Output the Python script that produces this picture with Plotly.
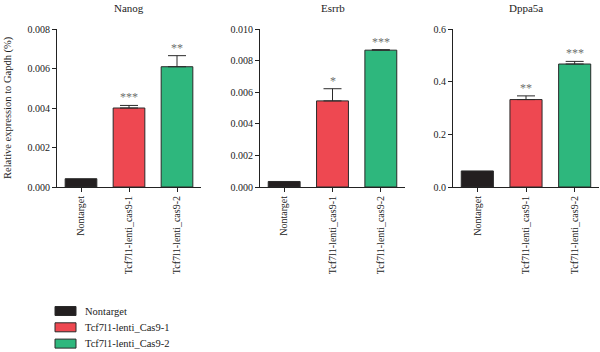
import plotly.graph_objects as go

groups = ["Nontarget", "Tcf7l1-lenti_cas9-1", "Tcf7l1-lenti_cas9-2"]
legend_names = ["Nontarget", "Tcf7l1-lenti_Cas9-1", "Tcf7l1-lenti_Cas9-2"]
genes = ["Nanog", "Esrrb", "Dppa5a"]

nanog = [0.00042, 0.00400, 0.00609]
nanog_err = [0.0, 0.00013, 0.00056]
esrrb = [0.00035, 0.00545, 0.00866]
esrrb_err = [0.0, 0.00077, 0.00003]
dppa5a = [0.061, 0.332, 0.467]
dppa5a_err = [0.0, 0.014, 0.010]
stars = [["", "***", "**"], ["", "*", "***"], ["", "**", "***"]]

y_ranges = [[0, 0.008], [0, 0.010], [0, 0.6]]
y_ticks = [[0, 0.002, 0.004, 0.006, 0.008],
           [0, 0.002, 0.004, 0.006, 0.008, 0.010],
           [0, 0.2, 0.4, 0.6]]
y_fmt = [".3f", ".3f", ".1f"]

colors = ["#231f20", "#ee4851", "#2eb77d"]
FONT = "Liberation Serif"

values = [nanog, esrrb, dppa5a]
errors = [nanog_err, esrrb_err, dppa5a_err]

x_domains = [[57/600, 201/600], [260/600, 405/600], [453/600, 599/600]]
y_domain = [1 - 187/352, 1 - 29/352]

fig = go.Figure()
annotations = []
shapes = []
for p in range(3):
    xa = "x" if p == 0 else f"x{p+1}"
    ya = "y" if p == 0 else f"y{p+1}"
    for i in range(3):
        fig.add_trace(go.Bar(
            x=[groups[i]], y=[values[p][i]],
            name=legend_names[i], showlegend=False,
            marker=dict(color=colors[i], line=dict(color="#2a2a2a", width=1)),
            error_y=dict(type="data", array=[errors[p][i]], symmetric=False,
                         arrayminus=[0], visible=errors[p][i] > 0,
                         color="#2a2a2a", thickness=1, width=9),
            xaxis=xa, yaxis=ya, width=0.66,
        ))
        if stars[p][i]:
            annotations.append(dict(
                x=groups[i], y=values[p][i] + errors[p][i], xref=xa, yref=ya,
                text=stars[p][i], showarrow=False, yanchor="bottom", yshift=-1,
                font=dict(family=FONT, size=12, color="#6e6e6e")))
    annotations.append(dict(
        x=(x_domains[p][0] + x_domains[p][1]) / 2, y=1 - 8/352, xref="paper", yref="paper",
        text=genes[p], showarrow=False, xanchor="center", yanchor="middle",
        font=dict(family=FONT, size=11, color="#222")))

annotations.append(dict(
    x=8/600, y=(y_domain[0] + y_domain[1]) / 2, xref="paper", yref="paper",
    text="Relative expression to Gapdh (%)", textangle=-90, showarrow=False,
    xanchor="center", yanchor="middle",
    font=dict(family=FONT, size=10.5, color="#222")))

# legend drawn as boxes + labels
for i, name in enumerate(legend_names):
    yc = 311 + i * 16.3
    shapes.append(dict(type="rect", xref="paper", yref="paper",
                       x0=55/600, x1=76/600, y0=1 - (yc - 4.5)/352, y1=1 - (yc + 4.5)/352,
                       fillcolor=colors[i], line=dict(color="#2a2a2a", width=1)))
    annotations.append(dict(x=83/600, y=1 - yc/352, xref="paper", yref="paper",
                            text=name, showarrow=False, xanchor="left", yanchor="middle",
                            font=dict(family=FONT, size=10.5, color="#222")))

layout = dict(
    width=600, height=352,
    margin=dict(l=0, r=0, t=0, b=0, autoexpand=False),
    paper_bgcolor="white", plot_bgcolor="white",
    showlegend=False,
    font=dict(family=FONT, size=10, color="#222"),
    annotations=annotations,
    shapes=shapes,
)
for p in range(3):
    xk = "xaxis" if p == 0 else f"xaxis{p+1}"
    yk = "yaxis" if p == 0 else f"yaxis{p+1}"
    layout[xk] = dict(domain=x_domains[p], anchor="y" if p == 0 else f"y{p+1}",
                      showline=True, linecolor="#222", linewidth=1,
                      ticks="outside", ticklen=4, tickcolor="#222",
                      tickangle=-90, showgrid=False, zeroline=False,
                      range=[-0.5, 2.5], automargin=False,
                      tickfont=dict(family=FONT, size=10, color="#222"))
    layout[yk] = dict(domain=y_domain, anchor="x" if p == 0 else f"x{p+1}",
                      range=y_ranges[p], tickvals=y_ticks[p], tickformat=y_fmt[p],
                      showline=True, linecolor="#222", linewidth=1,
                      ticks="outside", ticklen=4, tickcolor="#222",
                      showgrid=False, zeroline=False, automargin=False,
                      tickfont=dict(family=FONT, size=10, color="#222"))
fig.update_layout(**layout)
fig.write_html("out.html")
